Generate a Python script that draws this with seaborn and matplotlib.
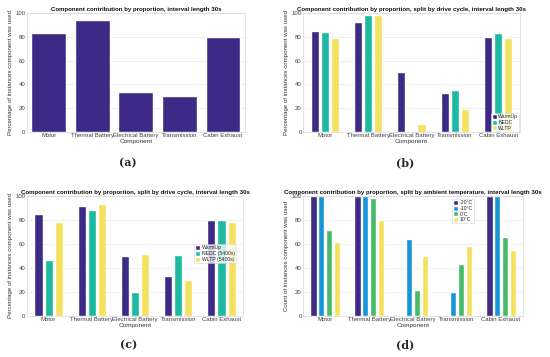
import numpy as np
import pandas as pd
import matplotlib
matplotlib.use('Agg')
import matplotlib.pyplot as plt
import seaborn as sns

# data
components = ['Motor', 'Thermal Battery', 'Electrical Battery', 'Transmission', 'Cabin Exhaust']

a_vals = [83, 94, 34, 30, 80]

b_warmup = [85, 92, 50, 33, 80]
b_nedc = [84, 98, 1, 35, 83]
b_wltp = [79, 98, 7, 19, 79]
b_names = ['WarmUp', 'NEDC', 'WLTP']

c_warmup = [85, 92, 50, 33, 80]
c_nedc = [47, 88, 20, 51, 80]
c_wltp = [78, 93, 52, 30, 78]
c_names = ['WarmUp', 'NEDC (5400s)', 'WLTP (5400s)']

d_m20 = [100, 100, 0, 0, 100]
d_m10 = [100, 100, 64, 20, 100]
d_0 = [72, 98, 22, 43, 66]
d_10 = [62, 80, 50, 58, 55]
d_names = ['-20°C', '-10°C', '0°C', '10°C']

purple = '#3d2a86'
teal = '#1db9a0'
yellow = '#f4e25e'
pal3 = [purple, teal, yellow]
pal4 = [purple, '#1696d6', '#45bb68', yellow]

sns.set_theme(style='whitegrid')
plt.rcParams['font.family'] = ['Liberation Sans', 'DejaVu Sans']


def long_df(names, series):
    rows = []
    for n, s in zip(names, series):
        for c, v in zip(components, s):
            rows.append({'Component': c, 'group': n, 'value': v})
    return pd.DataFrame(rows)


def style_ax(ax, title, ylabel):
    ax.set_title(title, fontsize=4.4, fontweight='bold', pad=1.5, color='#111111')
    ax.set_xlabel('Component', fontsize=4.6, labelpad=0.3, color='#333333')
    ax.set_ylabel(ylabel, fontsize=4.4, labelpad=1.5, color='#333333')
    ax.set_ylim(0, 100)
    ax.set_xlim(-0.5, 4.5)
    ax.set_yticks(range(0, 101, 20))
    ax.tick_params(axis='both', labelsize=4.3, pad=1, length=0, labelcolor='#404040')
    ax.grid(axis='y', color='#e6e6e6', linewidth=0.5)
    ax.grid(axis='x', visible=False)
    for sp in ax.spines.values():
        sp.set_color('#d8d8d8')
        sp.set_linewidth(0.5)


def style_legend(ax, loc, anchor):
    leg = ax.legend(loc=loc, bbox_to_anchor=anchor, fontsize=3.7, frameon=True,
                    handlelength=1.0, handleheight=1.1, handletextpad=0.3,
                    borderpad=0.2, labelspacing=0.1, borderaxespad=0.1, fancybox=False)
    leg.get_frame().set_edgecolor('#cccccc')
    leg.get_frame().set_linewidth(0.4)
    leg.set_title(None)


fig = plt.figure(figsize=(5.5, 3.57), dpi=100)
ylab = 'Percentage of instances component was used'

# (a)
ax = fig.add_axes([0.049, 0.630, 0.396, 0.334])
dfa = pd.DataFrame({'Component': components, 'value': a_vals})
sns.barplot(data=dfa, x='Component', y='value', color=purple, width=0.8,
            saturation=1, ax=ax)
style_ax(ax, 'Component contribution by proportion, interval length 30s', ylab)

# (b)
ax = fig.add_axes([0.551, 0.630, 0.394, 0.334])
sns.barplot(data=long_df(b_names, [b_warmup, b_nedc, b_wltp]), x='Component', y='value',
            hue='group', palette=pal3, width=0.7, gap=0.2, saturation=1, ax=ax)
style_ax(ax, 'Component contribution by proportion, split by drive cycle, interval length 30s', ylab)
style_legend(ax, 'lower right', (1.0, 0.0))

# (c)
ax = fig.add_axes([0.049, 0.115, 0.393, 0.336])
sns.barplot(data=long_df(c_names, [c_warmup, c_nedc, c_wltp]), x='Component', y='value',
            hue='group', palette=pal3, width=0.7, gap=0.2, saturation=1, ax=ax)
style_ax(ax, 'Component contribution by proportion, split by drive cycle, interval length 30s', ylab)
style_legend(ax, 'center right', (0.97, 0.52))

# (d)
ax = fig.add_axes([0.551, 0.115, 0.400, 0.336])
sns.barplot(data=long_df(d_names, [d_m20, d_m10, d_0, d_10]), x='Component', y='value',
            hue='group', palette=pal4, width=0.72, gap=0.15, saturation=1, ax=ax)
style_ax(ax, 'Component contribution by proportion, split by ambient temperature, interval length 30s',
         'Count of instances component was used')
style_legend(ax, 'upper right', (0.78, 0.98))

# panel letters
for x, y, t in [(0.233, 0.543, '(a)'), (0.736, 0.543, '(b)'),
                (0.233, 0.034, '(c)'), (0.736, 0.034, '(d)')]:
    fig.text(x, y, t, ha='center', va='center', fontsize=8, fontweight='bold',
             family='DejaVu Serif')

fig.savefig('out.png', dpi=100)
